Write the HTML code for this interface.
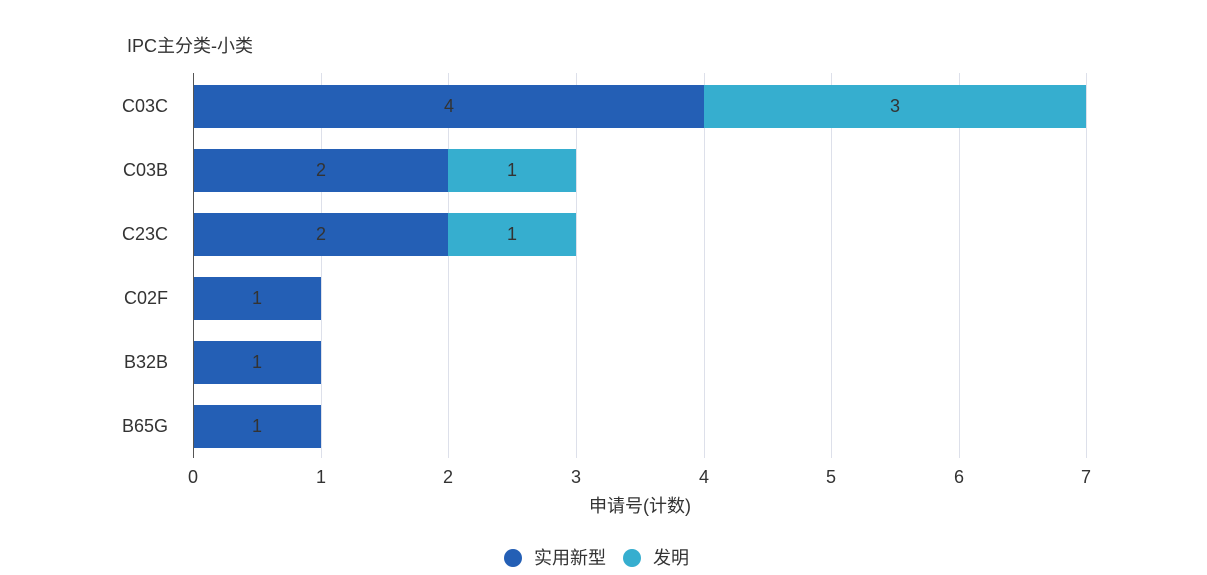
<!DOCTYPE html>
<html><head><meta charset="utf-8"><style>body{margin:0;background:#fff}svg{display:block}text{font-family:"Liberation Sans","Noto Sans CJK SC",sans-serif;fill:#333}</style></head><body>
<svg width="1207" height="575" viewBox="0 0 1207 575">
<text x="127" y="52" font-size="18">IPC主分类-小类</text>
<g stroke="#dde0ea" stroke-width="1">
<line x1="321.5" y1="73" x2="321.5" y2="458"/><line x1="448.5" y1="73" x2="448.5" y2="458"/><line x1="576.5" y1="73" x2="576.5" y2="458"/><line x1="704.5" y1="73" x2="704.5" y2="458"/><line x1="831.5" y1="73" x2="831.5" y2="458"/><line x1="959.5" y1="73" x2="959.5" y2="458"/><line x1="1086.5" y1="73" x2="1086.5" y2="458"/>
</g>
<g fill="#245fb5">
<rect x="193" y="85" width="511" height="43"/><rect x="193" y="149" width="255" height="43"/><rect x="193" y="213" width="255" height="43"/><rect x="193" y="277" width="128" height="43"/><rect x="193" y="341" width="128" height="43"/><rect x="193" y="405" width="128" height="43"/>
</g>
<g fill="#36aecf">
<rect x="704" y="85" width="382" height="43"/><rect x="448" y="149" width="128" height="43"/><rect x="448" y="213" width="128" height="43"/>
</g>
<line x1="193.5" y1="73" x2="193.5" y2="458" stroke="#555"/>
<g font-size="18" text-anchor="middle">
<text x="449" y="112">4</text><text x="895" y="112">3</text>
<text x="321" y="176">2</text><text x="512" y="176">1</text>
<text x="321" y="240">2</text><text x="512" y="240">1</text>
<text x="257" y="304">1</text><text x="257" y="368">1</text><text x="257" y="432">1</text>
</g>
<g font-size="18" text-anchor="end">
<text x="168" y="112">C03C</text><text x="168" y="176">C03B</text><text x="168" y="240">C23C</text><text x="168" y="304">C02F</text><text x="168" y="368">B32B</text><text x="168" y="432">B65G</text>
</g>
<g font-size="18" text-anchor="middle">
<text x="193" y="483">0</text><text x="321" y="483">1</text><text x="448" y="483">2</text><text x="576" y="483">3</text><text x="704" y="483">4</text><text x="831" y="483">5</text><text x="959" y="483">6</text><text x="1086" y="483">7</text>
<text x="640" y="512">申请号(计数)</text>
</g>
<circle cx="513" cy="558" r="9" fill="#245fb5"/>
<text x="534" y="564" font-size="18">实用新型</text>
<circle cx="632" cy="558" r="9" fill="#36aecf"/>
<text x="653" y="564" font-size="18">发明</text>
</svg>
</body></html>
